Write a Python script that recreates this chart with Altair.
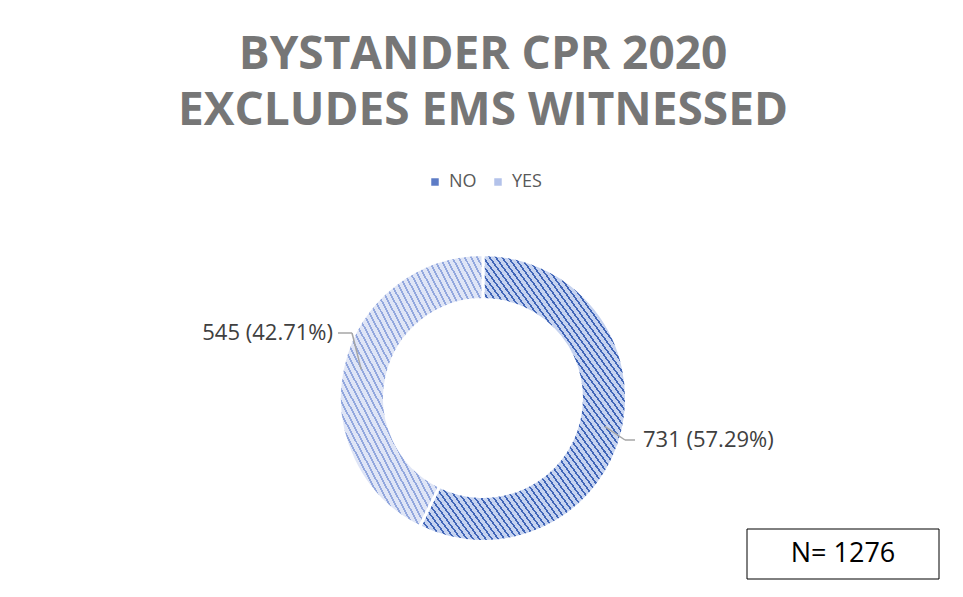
import math
import altair as alt
import pandas as pd

# ---- data ----
categories = ["NO", "YES"]
counts = [731, 545]
total = sum(counts)
pcts = [c / total * 100 for c in counts]
labels = [f"{c} ({p:.2f}%)" for c, p in zip(counts, pcts)]

# ---- layout / style ----
W = H = 340
CX, CY = W / 2, H / 2
R_OUT, R_IN = 143.5, 98.5
FONT = "Open Sans"

def stripes(light, dark, n, dark_frac):
    stops = []
    for k in range(n):
        a = k / n
        b = (k + 1 - dark_frac) / n
        c = (k + 1) / n
        stops += [
            {"offset": a, "color": light},
            {"offset": b, "color": light},
            {"offset": b, "color": dark},
            {"offset": c, "color": dark},
        ]
    return {"gradient": "linear", "x1": 0, "y1": 1, "x2": 1, "y2": 0, "stops": stops}

grad_no = stripes("#c6d3f0", "#4166b8", 66, 0.32)
grad_yes = stripes("#dfe5f6", "#93a8de", 46, 0.32)

df = pd.DataFrame({"cat": categories, "count": counts, "ord": [0, 1], "label": labels})

# leader lines / label placement derived from slice mid-angles
elbow_offset = {"NO": (142, 42), "YES": (-131, -65)}
tail = {"NO": 10, "YES": -14}
gap = {"NO": 8, "YES": -5}
seg_rows, lab_rows = [], []
cum = 0
for cat, c, lab in zip(categories, counts, labels):
    mid = (cum + c / 2) / total * 2 * math.pi
    cum += c
    sx = CX + 125 * math.sin(mid)
    sy = CY - 125 * math.cos(mid)
    ex = CX + elbow_offset[cat][0]
    ey = CY + elbow_offset[cat][1]
    tx = ex + tail[cat]
    seg_rows.append({"x": sx, "y": sy, "x2": ex, "y2": ey})
    seg_rows.append({"x": ex, "y": ey, "x2": tx, "y2": ey})
    lab_rows.append({"cat": cat, "label": lab, "x": tx + gap[cat], "y": ey})
seg = pd.DataFrame(seg_rows)
labdf = pd.DataFrame(lab_rows)

base = alt.Chart(df)

legend_layer = base.mark_arc(innerRadius=R_IN, outerRadius=R_OUT, opacity=0).encode(
    theta=alt.Theta("count:Q", stack=True),
    order=alt.Order("ord:Q"),
    color=alt.Color(
        "cat:N",
        sort=categories,
        scale=alt.Scale(domain=categories, range=["#5d7cc6", "#b3c2ea"]),
        legend=alt.Legend(
            title=None,
            orient="none",
            direction="horizontal",
            legendX=113,
            legendY=-55,
            symbolType="square",
            symbolSize=56,
            symbolOpacity=1,
            symbolStrokeWidth=0,
            labelFontSize=18,
            labelFont=FONT,
            labelColor="#595959",
            labelOffset=5,
            columnPadding=12,
            padding=0,
        ),
    ),
)

donut = base.mark_arc(innerRadius=R_IN, outerRadius=R_OUT, stroke="white", strokeWidth=3).encode(
    theta=alt.Theta("count:Q", stack=True),
    order=alt.Order("ord:Q"),
    fill=alt.condition(alt.datum.cat == "NO", alt.value(grad_no), alt.value(grad_yes)),
)

leaders = alt.Chart(seg).mark_rule(color="#a6a6a6", strokeWidth=1.5).encode(
    x=alt.X("x:Q", scale=None, axis=None),
    y=alt.Y("y:Q", scale=None, axis=None),
    x2="x2:Q",
    y2="y2:Q",
)

lab_right = alt.Chart(labdf).transform_filter(alt.datum.cat == "YES").mark_text(
    align="right", baseline="middle", font=FONT, fontSize=22, color="#404040"
).encode(x=alt.X("x:Q", scale=None, axis=None), y=alt.Y("y:Q", scale=None, axis=None), text="label:N")

lab_left = alt.Chart(labdf).transform_filter(alt.datum.cat == "NO").mark_text(
    align="left", baseline="middle", font=FONT, fontSize=22, color="#404040"
).encode(x=alt.X("x:Q", scale=None, axis=None), y=alt.Y("y:Q", scale=None, axis=None), text="label:N")

nbox_df = pd.DataFrame({"x": [434], "x2": [626], "y": [301], "y2": [351], "t": [f"N= {total}"]})
nbox = alt.Chart(nbox_df).mark_rect(fill="white", stroke="black", strokeWidth=1).encode(
    x=alt.X("x:Q", scale=None, axis=None), x2="x2:Q",
    y=alt.Y("y:Q", scale=None, axis=None), y2="y2:Q",
)
ntext = alt.Chart(nbox_df).mark_text(font=FONT, fontSize=27, color="black", baseline="middle").encode(
    x=alt.X("xc:Q", scale=None, axis=None), y=alt.Y("yc:Q", scale=None, axis=None), text="t:N"
).transform_calculate(xc="(datum.x + datum.x2) / 2", yc="(datum.y + datum.y2) / 2")

chart = alt.layer(legend_layer, donut, leaders, lab_right, lab_left, nbox, ntext).properties(
    width=W,
    height=H,
    background="white",
    autosize=alt.AutoSizeParams(type="none"),
    padding={"left": 305, "top": 220, "right": 302, "bottom": 21},
    title=alt.Title(
        text=["BYSTANDER CPR 2020", "EXCLUDES EMS WITNESSED"],
        font=FONT,
        fontSize=46,
        fontWeight="bold",
        color="#767676",
        anchor="middle",
        lineHeight=56,
        offset=38,
    ),
).configure_view(stroke="transparent", strokeWidth=0)

chart.save("out.html", embed_options={"renderer": "svg", "actions": False})
